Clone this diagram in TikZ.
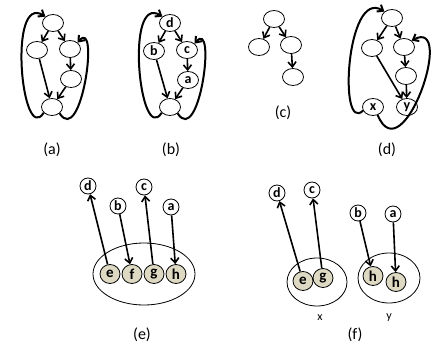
\documentclass[tikz,border=0pt]{standalone}
\usepackage{fontspec}
\setmainfont{Carlito}
\usepackage{xcolor}
\usepackage{tikz}
\usetikzlibrary{arrows.meta}
\usetikzlibrary{shapes.geometric}
\definecolor{tanfill}{RGB}{221, 217, 195}

\begin{document}
\begin{tikzpicture}[
  x=1pt, y=-1pt,
  gnode/.style={ellipse, draw, line width=0.8pt, minimum width=21pt, minimum height=17pt, inner sep=0pt, font=\fontsize{14}{14}\selectfont\bfseries},
  lnode/.style={circle, draw, line width=0.8pt, minimum size=16pt, inner sep=0pt, font=\fontsize{14}{14}\selectfont\bfseries},
  cnode/.style={ellipse, draw, fill=tanfill, line width=0.8pt, minimum width=20pt, minimum height=19pt, inner sep=0pt, font=\fontsize{15}{15}\selectfont\bfseries},
  grp/.style={ellipse, draw, line width=0.8pt, inner sep=0pt},
  edge/.style={-{Straight Barb[length=5pt, width=8pt]}, line width=1.6pt},
  loopedge/.style={edge, line width=2pt},
  capt/.style={font=\fontsize{16}{19}\selectfont}
]
\useasboundingbox (0,0) rectangle (441,350);

% (a)
\node[gnode] (a1) at (53,23)  {};
\node[gnode] (a2) at (37,50)  {};
\node[gnode] (a3) at (70,49)  {};
\node[gnode] (a4) at (71,79)  {};
\node[gnode] (a5) at (52,107) {};
\draw[edge] (a1) -- (a2);
\draw[edge] (a1) -- (a3);
\draw[edge] (a2) -- (a5);
\draw[edge] (a3) -- (a4);
\draw[edge] (a4) -- (a5);
\draw[loopedge] (a5.215) .. controls +(-22,34) and +(-38,-24) .. (a1.140);
\draw[loopedge] (a5.320) .. controls +(22,34) and +(22,-26) .. (a3.40);
\node[capt] (capa) at (52,150) {(a)};

% (b)
\node[gnode] (b1) at (170,23)  {d};
\node[gnode] (b2) at (154,51)  {b};
\node[gnode] (b3) at (187,50)  {c};
\node[gnode] (b4) at (188,80)  {a};
\node[gnode] (b5) at (170,107) {};
\draw[edge] (b1) -- (b2);
\draw[edge] (b1) -- (b3);
\draw[edge] (b2) -- (b5);
\draw[edge] (b3) -- (b4);
\draw[edge] (b4) -- (b5);
\draw[loopedge] (b5.215) .. controls +(-22,34) and +(-38,-24) .. (b1.140);
\draw[loopedge] (b5.320) .. controls +(22,34) and +(22,-26) .. (b3.40);
\node[capt] (capb) at (171,150) {(b)};

% (c)
\node[gnode] (c1) at (274,19) {};
\node[gnode] (c2) at (259,47) {};
\node[gnode] (c3) at (291,45) {};
\node[gnode] (c4) at (293,77) {};
\draw[edge] (c1) -- (c2);
\draw[edge] (c1) -- (c3);
\draw[edge] (c3) -- (c4);
\node[capt] (capc) at (283,113) {(c)};

% (d)
\node[gnode] (d1) at (392,18)  {};
\node[gnode] (d2) at (372,48)  {};
\node[gnode] (d3) at (404,47)  {};
\node[gnode] (d4) at (406,76)  {};
\node[gnode] (d5) at (373,107) {x};
\node[gnode] (d6) at (407,107) {y};
\draw[edge] (d1) -- (d2);
\draw[edge] (d1) -- (d3);
\draw[edge] (d2) -- (d6);
\draw[edge] (d3) -- (d4);
\draw[edge] (d4) -- (d6);
\draw[loopedge] (d5.200) .. controls +(-25,24) and +(-38,-24) .. (d1.140);
\draw[loopedge] (d5.300) .. controls +(25,60) and +(45,-24) .. (d3.40);
\node[capt] (capd) at (387,150) {(d)};

% (e)
\node[grp, minimum width=102pt, minimum height=62pt] (ge) at (144,274) {};
\node[lnode] (ed) at (88,186)  {d};
\node[lnode] (eb) at (118,206) {b};
\node[lnode] (ec) at (144,187) {c};
\node[lnode] (ea) at (171,207) {a};
\node[cnode] (ee) at (110,274) {e};
\node[cnode] (ef) at (132,274) {f};
\node[cnode] (eg) at (154,274) {g};
\node[cnode] (eh) at (176,274) {h};
\draw[edge] (ee) -- (ed);
\draw[edge] (eb) -- (ef);
\draw[edge] (eg) -- (ec);
\draw[edge] (ea) -- (eh);
\node[capt] (cape) at (142,335) {(e)};

% (f)
\node[grp, minimum width=60pt, minimum height=48pt] (gx) at (317,282) {};
\node[grp, minimum width=62pt, minimum height=50pt] (gy) at (389,278) {};
\node[lnode] (fd) at (277,193) {d};
\node[lnode] (fc) at (312,190) {c};
\node[lnode] (fb) at (358,213) {b};
\node[lnode] (fa) at (393,214) {a};
\node[cnode] (fe) at (303,281) {e};
\node[cnode] (fg) at (323,278) {g};
\node[cnode] (fh1) at (373,276) {h};
\node[cnode] (fh2) at (396,282) {h};
\draw[edge] (fe) -- (fd);
\draw[edge] (fg) -- (fc);
\draw[edge] (fb) -- (fh1);
\draw[edge] (fa) -- (fh2);
\node[font=\fontsize{12}{12}\selectfont] (labx) at (320,318) {x};
\node[font=\fontsize{12}{12}\selectfont] (laby) at (389,318) {y};
\node[capt] (capf) at (355,335) {(f)};

\end{tikzpicture}
\end{document}
